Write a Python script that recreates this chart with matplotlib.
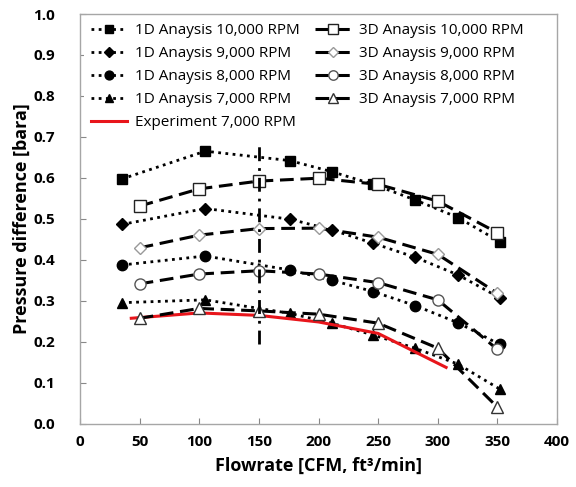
import matplotlib
matplotlib.use("Agg")
import matplotlib.pyplot as plt

plt.rcParams['font.family'] = ['Open Sans', 'DejaVu Sans']

# 1D analysis flowrates and values
x_1d = [35, 105, 176, 211, 246, 281, 317, 352]
y_1d_10000 = [0.597, 0.665, 0.642, 0.615, 0.584, 0.546, 0.503, 0.444]
y_1d_9000 = [0.486, 0.525, 0.499, 0.473, 0.440, 0.406, 0.363, 0.307]
y_1d_8000 = [0.387, 0.409, 0.375, 0.350, 0.322, 0.288, 0.246, 0.193]
y_1d_7000 = [0.295, 0.302, 0.269, 0.245, 0.216, 0.184, 0.145, 0.084]

# 3D analysis flowrates and values
x_3d = [50, 100, 150, 200, 250, 300, 350]
y_3d_10000 = [0.531, 0.573, 0.592, 0.599, 0.584, 0.543, 0.466]
y_3d_9000 = [0.429, 0.460, 0.476, 0.477, 0.455, 0.413, 0.318]
y_3d_8000 = [0.341, 0.365, 0.373, 0.365, 0.344, 0.302, 0.181]
y_3d_7000 = [0.257, 0.281, 0.275, 0.267, 0.245, 0.184, 0.040]

# Experiment
x_exp = [43, 100, 150, 200, 250, 307]
y_exp = [0.257, 0.270, 0.264, 0.248, 0.220, 0.137]

# reference vertical line
x_ref = [150, 150]
y_ref = [0.195, 0.69]

fig = plt.figure(figsize=(5.76, 4.87), dpi=100)
ax = fig.add_axes([80/576, 1-423.5/487, (557-80)/576, (423.5-14)/487])

dot_kw = dict(color='black', linestyle=(0, (1, 1.6)), linewidth=2.0, markersize=7.5)
dash_kw = dict(color='black', linestyle=(0, (4.5, 2.2)), linewidth=2.2, markersize=8,
               markerfacecolor='white', markeredgewidth=1.0)

h1 = ax.plot(x_1d, y_1d_10000, marker='s', label='1D Anaysis 10,000 RPM', **dot_kw)[0]
h2 = ax.plot(x_1d, y_1d_9000, marker='D', label='1D Anaysis 9,000 RPM', **{**dot_kw, 'markersize': 6})[0]
h3 = ax.plot(x_1d, y_1d_8000, marker='o', label='1D Anaysis 8,000 RPM', **dot_kw)[0]
h4 = ax.plot(x_1d, y_1d_7000, marker='^', label='1D Anaysis 7,000 RPM', **dot_kw)[0]
h9 = ax.plot(x_exp, y_exp, color='#e8151b', linewidth=2.2, label='Experiment 7,000 RPM')[0]
h5 = ax.plot(x_3d, y_3d_10000, marker='s', label='3D Anaysis 10,000 RPM',
             markeredgecolor='#222222', **dash_kw)[0]
h6 = ax.plot(x_3d, y_3d_9000, marker='D', label='3D Anaysis 9,000 RPM',
             markeredgecolor='#999999', **{**dash_kw, 'markersize': 6})[0]
h7 = ax.plot(x_3d, y_3d_8000, marker='o', label='3D Anaysis 8,000 RPM',
             markeredgecolor='#555555', **dash_kw)[0]
h8 = ax.plot(x_3d, y_3d_7000, marker='^', label='3D Anaysis 7,000 RPM',
             markeredgecolor='#333333', **dash_kw)[0]

ax.plot(x_ref, y_ref, color='black', linestyle=(0, (5, 2.5, 1, 2.5)), linewidth=2.0)

ax.set_xlim(0, 400)
ax.set_ylim(0, 1.0)
ax.set_xticks(range(0, 401, 50))
ax.set_yticks([i/10 for i in range(11)])
ax.set_yticklabels([f'{i/10:.1f}' for i in range(11)])
for lab in ax.get_xticklabels() + ax.get_yticklabels():
    lab.set_fontweight('bold')
    lab.set_fontsize(11)
ax.tick_params(direction='in', length=4, color='#888888', pad=8)
ax.tick_params(axis='y', pad=18)
for s in ax.spines.values():
    s.set_color('#a6a6a6')
    s.set_linewidth(1.0)

ax.set_xlabel('Flowrate [CFM, ft³/min]', fontsize=13, fontweight='bold', labelpad=6)
ax.set_ylabel('Pressure difference [bara]', fontsize=13, fontweight='bold', labelpad=2)

leg = ax.legend(handles=[h1, h2, h3, h4, h9, h5, h6, h7, h8], ncol=2, loc='upper left',
                frameon=True, fontsize=11, handlelength=2.4, handletextpad=0.5,
                columnspacing=1.0, labelspacing=0.52, borderaxespad=0.2,
                facecolor='white', edgecolor='none', framealpha=1.0,
                markerscale=0.85, bbox_to_anchor=(0.003, 1.0))

fig.savefig('out.png', dpi=100)
